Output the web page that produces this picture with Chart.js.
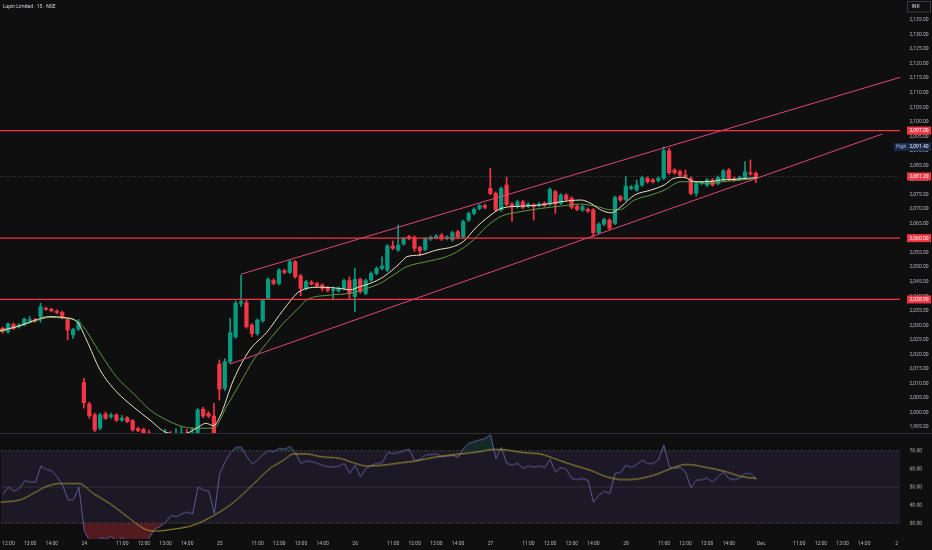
<!DOCTYPE html>
<html>
<head>
<meta charset="utf-8">
<title>Lupin Limited · 15 · NSE</title>
<script src="https://cdn.jsdelivr.net/npm/chart.js@4.4.1/dist/chart.umd.min.js"></script>
<style>
  html, body { margin: 0; padding: 0; background: #0f0f0f; }
  #wrap { position: relative; width: 932px; height: 550px; overflow: hidden; background: #0f0f0f; }
  #pricePane { position: absolute; left: 0; top: -13px; width: 932px; height: 459px; }
  #rsiPane { position: absolute; left: 0; top: 421px; width: 932px; height: 129.5px; }
  #paneSep { position: absolute; left: 0; top: 433px; width: 932px; height: 1px; background: #2a2e39; }
</style>
</head>
<body>
<div id="wrap">
  <div id="pricePane"><canvas id="priceCanvas"></canvas></div>
  <div id="rsiPane"><canvas id="rsiCanvas"></canvas></div>
  <div id="paneSep"></div>
</div>
<script>
// Lupin Limited, 15 min bars, Nov 21 (12:00) .. Nov 28 (15:15). Bar index 0 = Nov 21 12:00.
const titleText = 'Lupin Limited · 15 · NSE';
const firstBar = -1;

const opens = [
  2029.0, 2027.8, 2030.3, 2029.5, 2030.1, 2031.6, 2031.9, 2033.0, 2035.8, 2035.5,
  2034.9, 2034.5, 2032.0, 2026.7, 2028.7, 2010.3, 2002.9, 1999.2, 1994.6, 1999.5,
  1998.6, 1999.2, 1997.4, 1998.2, 1997.2, 1994.5, 1994.2, 1993.0, 1991.2, 1989.5,
  1991.0, 1992.2, 1991.5, 1992.4, 1993.0, 1992.3, 1992.8, 2001.1, 1999.7, 1998.8,
  2016.7, 2008.3, 2017.5, 2026.1, 2037.6, 2037.8, 2030.1, 2027.2, 2031.6, 2039.3,
  2045.4, 2044.4, 2048.8, 2048.2, 2051.9, 2047.0, 2042.7, 2044.8, 2044.4, 2043.9,
  2042.9, 2042.0, 2041.9, 2042.7, 2045.4, 2039.9, 2045.8, 2041.0, 2045.6, 2047.9,
  2049.6, 2049.0, 2057.3, 2055.9, 2058.0, 2060.5, 2060.3, 2056.8, 2056.1, 2059.7,
  2060.2, 2061.0, 2059.9, 2059.4, 2062.2, 2060.5, 2066.2, 2068.5, 2070.2, 2071.2,
  2077.1, 2075.4, 2069.7, 2078.3, 2071.7, 2070.8, 2072.5, 2071.0, 2071.4, 2071.3,
  2072.0, 2071.7, 2076.0, 2072.0, 2074.8, 2073.7, 2071.0, 2069.7, 2069.9, 2069.7,
  2061.9, 2064.8, 2066.2, 2065.1, 2074.2, 2073.3, 2077.1, 2076.6, 2078.3, 2080.6,
  2080.0, 2079.8, 2080.6, 2090.1, 2083.4, 2082.9, 2081.7, 2080.6, 2075.4, 2078.8,
  2078.2, 2080.0, 2078.8, 2080.0, 2083.4, 2080.5, 2080.3, 2080.9, 2082.5, 2082.3
];
const highs = [
  2029.4, 2030.9, 2030.8, 2030.6, 2032.5, 2033.0, 2032.4, 2037.6, 2036.3, 2035.9,
  2035.3, 2034.9, 2032.4, 2029.0, 2032.0, 2011.8, 2003.6, 1999.8, 1999.7, 2000.2,
  1999.8, 1999.6, 1999.0, 1998.6, 1997.6, 1995.0, 1994.6, 1994.0, 1992.5, 1992.0,
  1994.2, 1993.5, 1994.5, 1995.0, 1994.2, 1994.8, 2001.4, 2001.8, 2000.3, 2003.2,
  2018.1, 2018.5, 2032.4, 2038.4, 2047.3, 2038.6, 2030.6, 2032.2, 2039.0, 2046.3,
  2046.0, 2049.5, 2049.3, 2052.4, 2052.3, 2047.5, 2045.6, 2045.4, 2044.9, 2044.3,
  2043.4, 2043.2, 2043.2, 2045.9, 2046.7, 2049.6, 2046.3, 2045.9, 2048.4, 2050.1,
  2053.6, 2057.8, 2059.0, 2064.5, 2060.4, 2061.0, 2060.8, 2057.3, 2060.2, 2060.8,
  2061.2, 2061.6, 2060.9, 2062.4, 2062.7, 2066.2, 2069.0, 2070.4, 2071.7, 2071.7,
  2084.0, 2075.9, 2077.6, 2081.0, 2072.2, 2073.0, 2073.0, 2072.2, 2071.9, 2072.2,
  2072.5, 2077.3, 2076.5, 2075.3, 2075.3, 2074.2, 2071.5, 2071.3, 2070.4, 2070.2,
  2065.3, 2066.9, 2066.7, 2074.5, 2074.7, 2081.1, 2078.1, 2080.0, 2081.3, 2081.1,
  2080.5, 2081.1, 2091.4, 2090.9, 2083.9, 2083.4, 2083.4, 2081.1, 2079.3, 2079.5,
  2080.5, 2080.5, 2081.4, 2083.6, 2083.9, 2081.0, 2081.3, 2086.3, 2086.9, 2082.8
];
const lows = [
  2027.3, 2027.2, 2028.5, 2029.0, 2029.8, 2031.2, 2031.0, 2031.0, 2035.2, 2034.6,
  2034.0, 2032.2, 2025.0, 2025.5, 2028.2, 2001.5, 1998.0, 1993.4, 1994.0, 1997.6,
  1998.0, 1996.8, 1996.9, 1996.5, 1993.6, 1993.4, 1992.2, 1990.0, 1988.5, 1989.0,
  1990.5, 1990.8, 1991.0, 1991.5, 1991.6, 1991.8, 1992.4, 1998.2, 1998.2, 1992.0,
  2004.3, 2007.5, 2016.8, 2025.5, 2036.4, 2029.0, 2026.1, 2026.6, 2031.0, 2038.8,
  2043.9, 2043.9, 2047.7, 2047.8, 2046.2, 2040.2, 2042.2, 2043.8, 2043.0, 2041.8,
  2041.5, 2038.7, 2041.4, 2042.2, 2039.0, 2034.7, 2041.0, 2040.5, 2045.1, 2047.4,
  2049.1, 2048.5, 2056.0, 2055.4, 2057.5, 2059.4, 2055.4, 2054.0, 2055.6, 2059.2,
  2059.7, 2059.2, 2059.4, 2058.9, 2059.8, 2060.0, 2065.7, 2068.0, 2069.7, 2070.1,
  2074.9, 2069.2, 2069.2, 2071.1, 2065.7, 2070.3, 2070.1, 2070.5, 2066.2, 2070.8,
  2070.8, 2071.2, 2068.5, 2071.5, 2072.8, 2070.1, 2069.4, 2069.2, 2068.8, 2060.5,
  2061.4, 2064.3, 2062.9, 2064.6, 2072.6, 2072.8, 2076.6, 2076.1, 2077.8, 2078.9,
  2078.9, 2079.3, 2080.1, 2082.0, 2082.0, 2081.2, 2080.7, 2074.9, 2074.4, 2078.3,
  2077.7, 2077.8, 2078.3, 2079.5, 2079.7, 2079.5, 2079.8, 2080.4, 2081.6, 2079.1
];
const closes = [
  2027.8, 2030.5, 2028.9, 2030.1, 2032.1, 2031.9, 2031.5, 2036.4, 2035.5, 2035.0,
  2034.4, 2032.7, 2028.4, 2028.6, 2031.1, 2003.4, 1998.9, 1994.0, 1999.2, 1998.0,
  1999.1, 1997.4, 1998.0, 1996.9, 1994.0, 1993.8, 1992.8, 1991.0, 1989.5, 1991.0,
  1992.2, 1991.5, 1992.5, 1993.0, 1992.3, 1993.0, 2000.9, 1998.8, 1998.8, 1992.8,
  2008.0, 2017.5, 2027.5, 2037.6, 2038.1, 2029.5, 2027.2, 2031.8, 2038.5, 2045.8,
  2044.4, 2049.0, 2048.2, 2051.9, 2046.7, 2042.7, 2045.0, 2044.2, 2043.5, 2042.7,
  2042.1, 2042.4, 2042.7, 2045.4, 2041.0, 2045.8, 2041.6, 2045.4, 2047.9, 2049.6,
  2050.4, 2057.3, 2056.5, 2057.6, 2059.9, 2059.9, 2056.5, 2055.7, 2059.7, 2060.3,
  2060.7, 2059.7, 2060.4, 2061.9, 2060.3, 2065.7, 2068.5, 2069.9, 2071.2, 2070.6,
  2075.4, 2069.7, 2077.1, 2071.6, 2070.8, 2072.5, 2070.6, 2071.7, 2070.8, 2071.7,
  2071.3, 2076.8, 2071.7, 2074.8, 2073.3, 2070.6, 2069.9, 2070.8, 2069.3, 2061.9,
  2064.8, 2066.4, 2063.4, 2074.0, 2073.1, 2077.9, 2077.6, 2078.3, 2080.8, 2079.4,
  2079.4, 2080.6, 2090.1, 2082.5, 2082.5, 2081.7, 2081.2, 2075.4, 2078.8, 2079.0,
  2080.0, 2078.3, 2080.9, 2083.1, 2080.2, 2080.0, 2080.8, 2082.8, 2082.1, 2081.2
];

// EMA overlays as [bar, price]
const emaFast = [
  [-1.5, 2028.2], [1.6, 2029.5], [4.7, 2031.6], [7.7, 2033.0], [10.2, 2032.7], [12.7, 2031.3],
  [14.5, 2024.9], [17, 2014.6], [20, 2007.2], [23.1, 2002.0], [26.2, 1997.4], [29.3, 1993.1],
  [32.3, 1992.6], [34.8, 1994.6], [36.5, 1996.3], [37.9, 1995.5], [39.1, 1998.6], [41.6, 2011.2],
  [44.6, 2021.5], [47.7, 2027.5], [50.8, 2035.3], [53.9, 2041.8], [57.6, 2043.1], [61.3, 2042.7],
  [63.1, 2042.2], [64.9, 2043.3], [66.8, 2044.4], [69.3, 2046.7], [72.3, 2051.3], [73.6, 2053.6],
  [76, 2054.2], [79.1, 2055.9], [82.2, 2057.1], [84, 2058.8], [86.5, 2063.9], [88.3, 2066.8],
  [91, 2070.2], [94.6, 2071.0], [98.3, 2071.4], [102, 2072.5], [105.7, 2073.1], [107.6, 2071.9],
  [109.4, 2069.7], [111.3, 2068.7], [113.1, 2070.8], [115.6, 2074.8], [118.6, 2076.5], [121.1, 2078.3],
  [122.9, 2080.6], [124.8, 2080.9], [126.6, 2079.4], [129.1, 2079.4], [131.6, 2080.0], [134, 2080.2],
  [136.5, 2080.6], [138.3, 2080.8]
];
const emaSlow = [
  [-1.5, 2027.8], [4.7, 2031.3], [7.7, 2032.7], [10.8, 2032.4], [13.3, 2030.7], [17, 2020.4],
  [20, 2012.3], [23.1, 2006.6], [26.2, 2000.9], [29.3, 1997.4], [32.3, 1995.1], [34.8, 1994.6],
  [37.9, 1994.6], [40.3, 2002.0], [42.8, 2010.0], [45.3, 2018.1], [47.7, 2023.8], [50.8, 2030.7],
  [53.9, 2036.4], [55.1, 2038.7], [59.4, 2040.4], [63.1, 2041.0], [66.2, 2042.7], [68.6, 2044.4],
  [71.1, 2047.3], [73.6, 2050.2], [77.2, 2051.9], [80.9, 2053.6], [83.4, 2055.9], [85.9, 2059.4],
  [88.3, 2064.0], [91, 2067.5], [94.6, 2069.1], [98.3, 2070.2], [102, 2071.0], [105.7, 2071.7],
  [108.8, 2070.8], [111.3, 2069.7], [113.1, 2069.9], [115.6, 2073.1], [118.6, 2074.8], [121.1, 2076.5],
  [124.2, 2079.4], [126.6, 2079.4], [129.1, 2078.8], [132.8, 2079.6], [136.5, 2080.2], [138.3, 2080.6]
];

// RSI per bar, and its moving average read as [bar, value]
const rsiVals = [
  46.0, 50.0, 47.8, 49.1, 53.4, 52.8, 52.8, 61.6, 59.7, 59.0,
  55.6, 50.9, 42.9, 42.9, 50.0, 25.5, 20.0, 15.0, 22.0, 21.0,
  22.5, 20.0, 22.0, 20.0, 16.5, 16.0, 15.0, 22.0, 26.7, 28.0,
  30.5, 34.2, 33.5, 35.1, 36.1, 35.1, 50.0, 48.2, 47.8, 35.1,
  57.5, 64.0, 69.0, 72.0, 72.0, 66.8, 62.7, 64.9, 68.0, 70.1,
  69.6, 71.4, 70.9, 72.4, 68.6, 63.1, 64.5, 64.0, 63.1, 62.0,
  61.2, 61.2, 61.5, 63.1, 57.5, 62.1, 55.6, 60.3, 62.0, 63.1,
  63.4, 69.0, 68.5, 69.0, 70.1, 70.9, 64.5, 65.3, 67.7, 68.0,
  68.3, 66.8, 67.1, 67.5, 66.4, 71.4, 74.2, 75.2, 76.1, 77.0,
  78.9, 65.8, 72.0, 63.1, 62.1, 63.1, 60.3, 61.6, 61.0, 61.6,
  60.8, 65.3, 58.4, 60.8, 59.8, 54.7, 54.2, 54.7, 53.7, 41.6,
  45.4, 47.6, 46.3, 57.5, 58.0, 62.1, 60.8, 62.5, 64.9, 63.1,
  63.0, 64.9, 73.3, 61.2, 60.3, 60.8, 58.4, 49.6, 53.7, 54.0,
  55.0, 52.8, 55.6, 58.4, 54.7, 54.1, 55.0, 57.5, 57.5, 54.7
];
const rsiMa = [
  [-1.5, 41.6], [2.2, 42.9], [4.7, 46.7], [7.1, 50.4], [9.6, 51.9], [13, 51.9], [15.7, 46.3],
  [18.8, 40.7], [21.9, 33.6], [25.6, 26.2], [27.4, 25.6], [30.5, 26.7], [33.9, 28.6], [37.9, 34.2],
  [41.6, 41.6], [45.3, 51.9], [48.3, 60.3], [50.8, 64.9], [52.6, 68.3], [55.1, 68.3], [57.6, 66.8],
  [61.3, 65.8], [63.7, 63.4], [66.2, 61.6], [69.2, 62.1], [72.3, 63.4], [75.4, 64.5], [78.5, 66.4],
  [81.5, 67.7], [83.4, 68.3], [87.1, 69.6], [89.5, 70.9], [92.1, 70.5], [95.1, 69.0], [98.2, 68.3],
  [101.2, 65.3], [104.3, 62.1], [107.4, 59.3], [110.5, 55.6], [113.5, 54.1], [116.6, 54.7],
  [119.7, 57.1], [122.8, 60.8], [125.2, 62.5], [128.9, 60.8], [132.6, 58.4], [135, 56.0], [138.1, 54.7]
];

// drawings: horizontal levels and the rising channel lines ([bar, price] ends)
const levels = [2097.00, 2060.00, 2038.90];
const channelUpper = [[43.0, 2047.6], [164.6, 2115.3]];
const channelLower = [[41.0, 2016.7], [161.3, 2095.8]];

// time axis
const timeTickIdx = [0, 4, 8, 14, 21, 25, 29, 33, 39, 46, 50, 54, 58, 64, 71, 75, 79, 83,
  89, 96, 100, 104, 108, 114, 121, 125, 129, 133, 139, 146, 150, 154, 158, 164];
const timeTickText = ['12:00', '13:00', '14:00', '24', '11:00', '12:00', '13:00', '14:00',
  '25', '11:00', '12:00', '13:00', '14:00', '26', '11:00', '12:00', '13:00', '14:00',
  '27', '11:00', '12:00', '13:00', '14:00', '28', '11:00', '12:00', '13:00', '14:00',
  'Dec', '11:00', '12:00', '13:00', '14:00', '2'];
const rsiTicks = [30, 40, 50, 60, 70];

const xMin = -1.48, xMax = 164.6;
const upColor = '#089981', downColor = '#f23645';
const axisText = '#b2b5be';
const fontFamily = 'Roboto, "Noto Sans", sans-serif';
Chart.defaults.font.family = fontFamily;

const fmtPrice = v => v.toLocaleString('en-US', { minimumFractionDigits: 2, maximumFractionDigits: 2 });
const bars = opens.map((o, k) => firstBar + k);
const candleColors = closes.map((c, k) => (c >= opens[k] ? upColor : downColor));
const lastClose = closes[closes.length - 1];
const dayHigh = Math.max(...highs);
const pts = arr => arr.map(([x, y]) => ({ x, y }));
const flat = v => [{ x: xMin, y: v }, { x: xMax, y: v }];

// price tags on the right axis, title, currency box
const tagPlugin = {
    id: 'tags',
    afterDraw(chart) {
        const { ctx, chartArea } = chart;
        const y = chart.scales.y;
        const r = chartArea.right;
        ctx.save();
        ctx.font = '5px ' + fontFamily;
        ctx.textBaseline = 'middle';
        ctx.textAlign = 'left';

        ctx.fillStyle = '#d1d4dc';
        ctx.fillText(titleText, 3, chartArea.top + 7);

        ctx.fillStyle = '#0f0f0f';
        ctx.fillRect(r + 7.5, chartArea.top + 1.5, 23, 10.5);
        ctx.strokeStyle = '#434651';
        ctx.lineWidth = 0.8;
        ctx.strokeRect(r + 7.5, chartArea.top + 1.5, 23, 10.5);
        ctx.fillStyle = '#d1d4dc';
        ctx.fillText('INR', r + 11.5, chartArea.top + 7);

        [...levels, lastClose].forEach(v => {
            const py = y.getPixelForValue(v);
            ctx.fillStyle = '#f23645';
            ctx.fillRect(r + 7, py - 4, 24, 8);
            ctx.fillStyle = '#ffffff';
            ctx.fillText(fmtPrice(v), r + 9.5, py + 0.3);
        });

        const hy = y.getPixelForValue(dayHigh);
        ctx.fillStyle = '#1c2a4b';
        ctx.fillRect(r - 6, hy - 4, 37, 8);
        ctx.fillStyle = '#9fb4e6';
        ctx.fillText('High', r - 4, hy + 0.3);
        ctx.fillStyle = '#e6ebf7';
        ctx.fillText(fmtPrice(dayHigh), r + 9.5, hy + 0.3);
        ctx.restore();
    }
};

const lineBase = { type: 'line', pointRadius: 0, fill: false };

new Chart(document.getElementById('priceCanvas'), {
    type: 'bar',
    data: {
        datasets: [
            ...levels.map(v => ({ ...lineBase, label: 'level ' + v, data: flat(v), borderColor: '#f23645', borderWidth: 1.3, order: 0 })),
            { ...lineBase, label: 'last', data: flat(lastClose), borderColor: 'rgba(120,123,134,0.55)', borderWidth: 0.8, borderDash: [1, 2], order: 0 },
            { ...lineBase, label: 'channel upper', data: pts(channelUpper), borderColor: '#e0457b', borderWidth: 1, order: 0 },
            { ...lineBase, label: 'channel lower', data: pts(channelLower), borderColor: '#e0457b', borderWidth: 1, order: 0 },
            { ...lineBase, label: 'EMA fast', data: pts(emaFast), borderColor: '#ebe4c4', borderWidth: 1, cubicInterpolationMode: 'monotone', order: 1 },
            { ...lineBase, label: 'EMA slow', data: pts(emaSlow), borderColor: '#5e9a44', borderWidth: 1, cubicInterpolationMode: 'monotone', order: 1 },
            {
                label: 'body', data: bars.map((x, k) => ({ x, y: [opens[k], closes[k]] })),
                backgroundColor: candleColors, barThickness: 3.6, minBarLength: 1, grouped: false, order: 2
            },
            {
                label: 'wick', data: bars.map((x, k) => ({ x, y: [lows[k], highs[k]] })),
                backgroundColor: candleColors, barThickness: 1, grouped: false, order: 3
            }
        ]
    },
    options: {
        animation: false,
        responsive: true,
        maintainAspectRatio: false,
        layout: { padding: { top: 13, bottom: 13, left: 0, right: 0 } },
        plugins: { legend: { display: false }, tooltip: { enabled: false } },
        scales: {
            x: { type: 'linear', min: xMin, max: xMax, offset: false, display: false },
            y: {
                position: 'right', min: 1992.96, max: 2141.91,
                afterFit(s) { s.width = 32; },
                afterBuildTicks(s) { s.ticks = s.ticks.filter(t => t.value % 5 === 0 && t.value >= 1995 && t.value <= 2135); },
                grid: { display: false, drawTicks: false },
                border: { display: false },
                ticks: { stepSize: 5, padding: 9.5, color: axisText, font: { size: 5 }, callback: v => fmtPrice(v) }
            }
        }
    },
    plugins: [tagPlugin]
});

const rsiPts = bars.map((x, k) => ({ x, y: rsiVals[k] }));

new Chart(document.getElementById('rsiCanvas'), {
    type: 'line',
    data: {
        datasets: [
            { ...lineBase, label: 'RSI MA', data: pts(rsiMa), borderColor: '#ab9c38', borderWidth: 1, cubicInterpolationMode: 'monotone', order: 0 },
            {
                ...lineBase, label: 'RSI', data: rsiPts, borderColor: '#6a62a8', borderWidth: 0.9, order: 1,
                fill: { target: { value: 70 }, above: 'rgba(38,166,154,0.18)', below: 'rgba(0,0,0,0)' }
            },
            {
                ...lineBase, label: 'RSI oversold', data: rsiPts, borderWidth: 0, order: 2,
                fill: { target: { value: 30 }, above: 'rgba(0,0,0,0)', below: 'rgba(242,54,69,0.3)' }
            },
            { ...lineBase, label: 'mid', data: flat(50), borderColor: 'rgba(120,123,134,0.35)', borderWidth: 0.7, order: 3 },
            { ...lineBase, label: 'lower band', data: flat(30), borderColor: '#5d606b', borderWidth: 0.8, borderDash: [2, 2], order: 4 },
            {
                ...lineBase, label: 'upper band', data: flat(70), borderColor: '#5d606b', borderWidth: 0.8, borderDash: [2, 2], order: 5,
                fill: { target: { value: 30 } }, backgroundColor: 'rgba(126,87,194,0.12)'
            }
        ]
    },
    options: {
        animation: false,
        responsive: true,
        maintainAspectRatio: false,
        layout: { padding: { top: 13, bottom: 0, left: 0, right: 0 } },
        plugins: { legend: { display: false }, tooltip: { enabled: false } },
        scales: {
            x: {
                type: 'linear', min: xMin, max: xMax, offset: false,
                afterBuildTicks(s) { s.ticks = timeTickIdx.map(v => ({ value: v })); },
                grid: { display: false, drawTicks: false },
                border: { display: false },
                ticks: {
                    autoSkip: false, maxRotation: 0, padding: 2, color: axisText, font: { size: 5 },
                    callback: v => timeTickText[timeTickIdx.indexOf(v)]
                }
            },
            y: {
                position: 'right', min: 21.2, max: 79.33,
                afterFit(s) { s.width = 32; },
                afterBuildTicks(s) { s.ticks = rsiTicks.map(v => ({ value: v })); },
                grid: { display: false, drawTicks: false },
                border: { display: false },
                ticks: { padding: 9.5, color: axisText, font: { size: 5 }, callback: v => v.toFixed(2) }
            }
        }
    }
});
</script>
</body>
</html>
